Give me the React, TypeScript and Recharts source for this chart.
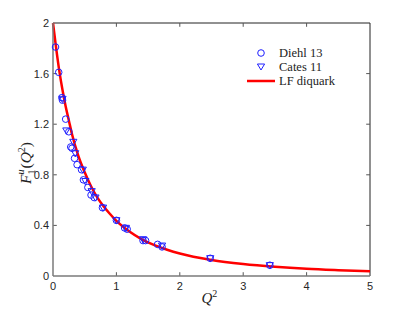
import React from 'react';
import {
  ComposedChart,
  Line,
  Scatter,
  XAxis,
  YAxis,
  ReferenceLine,
} from 'recharts';

// values
const X_TICKS = [0, 1, 2, 3, 4, 5];
const Y_TICKS = [0, 0.4, 0.8, 1.2, 1.6, 2];

const DIEHL_Q2 = [0.04, 0.09, 0.14, 0.15, 0.2, 0.25, 0.28, 0.3, 0.34, 0.38, 0.45, 0.48, 0.55, 0.6, 0.65, 0.78, 1.0, 1.13, 1.17, 1.42, 1.46, 1.65, 1.72, 2.48, 3.42];
const DIEHL_F1 = [1.81, 1.61, 1.41, 1.39, 1.24, 1.14, 1.02, 1.01, 0.93, 0.88, 0.84, 0.76, 0.7, 0.64, 0.62, 0.54, 0.44, 0.38, 0.37, 0.28, 0.28, 0.25, 0.23, 0.14, 0.085];

const CATES_Q2 = [0.15, 0.21, 0.32, 0.35, 0.47, 0.51, 0.61, 0.67, 0.79, 1.0, 1.15, 1.42, 1.72, 2.48, 3.42];
const CATES_F1 = [1.4, 1.15, 1.06, 0.97, 0.84, 0.75, 0.67, 0.62, 0.54, 0.44, 0.38, 0.29, 0.24, 0.14, 0.085];

const CURVE_Q2 = [0, 0.05, 0.1, 0.15, 0.2, 0.25, 0.3, 0.4, 0.5, 0.6, 0.7, 0.8, 0.9, 1.0, 1.2, 1.4, 1.6, 1.8, 2.0, 2.5, 3.0, 3.5, 4.0, 4.5, 5.0];
const CURVE_F1 = [2.0, 1.8, 1.62, 1.47, 1.34, 1.23, 1.12, 0.95, 0.82, 0.71, 0.62, 0.55, 0.49, 0.435, 0.353, 0.29, 0.244, 0.208, 0.178, 0.127, 0.095, 0.073, 0.057, 0.046, 0.037];

const zip = (xs: number[], ys: number[]) => xs.map((q2, i) => ({ q2, f1: ys[i] }));

const diehl = zip(DIEHL_Q2, DIEHL_F1);
const cates = zip(CATES_Q2, CATES_F1);
const curve = zip(CURVE_Q2, CURVE_F1);

const BLUE = '#1f1fff';
const RED = '#ff0000';
const MATH_FONT = '"Liberation Serif", "DejaVu Serif", serif';
const TICK_FONT = '"Liberation Sans", Arial, sans-serif';

const Circle = (props: any) => (
  <circle cx={props.cx} cy={props.cy} r={3.3} fill="none" stroke={BLUE} strokeWidth={1} />
);

const TriDown = (props: any) => {
  const { cx, cy } = props;
  return (
    <path
      d={`M${cx - 3.6},${cy - 2.6} L${cx + 3.6},${cy - 2.6} L${cx},${cy + 3.6} Z`}
      fill="none"
      stroke={BLUE}
      strokeWidth={1}
    />
  );
};

function LegendBox() {
  return (
    <svg width={130} height={46} style={{ position: 'absolute', left: 240, top: 44 }}>
      <circle cx={21} cy={9} r={3.3} fill="none" stroke={BLUE} />
      <path d="M17.4,20 L24.6,20 L21,26 Z" fill="none" stroke={BLUE} />
      <line x1={7} x2={35} y1={37} y2={37} stroke={RED} strokeWidth={2.5} />
      <g fontFamily={MATH_FONT} fontSize={12.5} fill="#222">
        <text x={39} y={13}>Diehl 13</text>
        <text x={39} y={27}>Cates 11</text>
        <text x={39} y={41}>LF diquark</text>
      </g>
    </svg>
  );
}

const XLabel = (props: any) => {
  const { viewBox } = props;
  const cx = viewBox.x + viewBox.width / 2;
  return (
    <text x={cx - 10} y={303} fontFamily={MATH_FONT} fontSize={15} fill="#222">
      <tspan fontStyle="italic">Q</tspan>
      <tspan fontSize={10} dy={-6}>2</tspan>
    </text>
  );
};

const YLabel = () => (
  <text
    transform="translate(31,184) rotate(-90)"
    fontFamily={MATH_FONT}
    fontSize={15.5}
    fill="#222"
  >
    <tspan fontStyle="italic">F</tspan>
    <tspan fontSize={10} dy={4}>1</tspan>
    <tspan fontSize={10} fontStyle="italic" dx={-5} dy={-11}>u</tspan>
    <tspan dx={1} dy={7}>(</tspan>
    <tspan fontStyle="italic">Q</tspan>
    <tspan fontSize={10} dy={-6}>2</tspan>
    <tspan dy={6}>)</tspan>
  </text>
);

export default function App() {
  return (
    <div style={{ position: 'absolute', left: 0, top: 0, width: 409, height: 312, background: '#fff' }}>
      <ComposedChart width={409} height={312} margin={{ top: 23, right: 39, bottom: 0, left: 0 }}>
        <XAxis
          type="number"
          dataKey="q2"
          domain={[0, 5]}
          ticks={X_TICKS}
          tickLine={false}
          tickSize={0}
          tickMargin={6}
          height={36}
          axisLine={{ stroke: '#7a7a7a', strokeWidth: 1.5 }}
          tick={{ fontSize: 11, fill: '#262626', fontFamily: TICK_FONT }}
          label={<XLabel />}
        />
        <YAxis
          type="number"
          dataKey="f1"
          domain={[0, 2]}
          ticks={Y_TICKS}
          tickLine={false}
          tickSize={0}
          tickMargin={4}
          width={53}
          axisLine={{ stroke: '#7a7a7a', strokeWidth: 1.5 }}
          tick={{ fontSize: 11, fill: '#262626', fontFamily: TICK_FONT }}
          label={<YLabel />}
        />
        <ReferenceLine y={2} stroke="#222" strokeWidth={1} />
        <ReferenceLine x={5} stroke="#222" strokeWidth={1} />
        {X_TICKS.slice(1, -1).map((t) => (
          <ReferenceLine key={`xb${t}`} segment={[{ x: t, y: 0 }, { x: t, y: 0.03 }]} stroke="#555" />
        ))}
        {X_TICKS.slice(1, -1).map((t) => (
          <ReferenceLine key={`xt${t}`} segment={[{ x: t, y: 2 }, { x: t, y: 1.97 }]} stroke="#555" />
        ))}
        {Y_TICKS.slice(1, -1).map((t) => (
          <ReferenceLine key={`yl${t}`} segment={[{ x: 0, y: t }, { x: 0.06, y: t }]} stroke="#555" />
        ))}
        {Y_TICKS.slice(1, -1).map((t) => (
          <ReferenceLine key={`yr${t}`} segment={[{ x: 5, y: t }, { x: 4.94, y: t }]} stroke="#555" />
        ))}
        <Scatter data={diehl} shape={Circle} isAnimationActive={false} />
        <Scatter data={cates} shape={TriDown} isAnimationActive={false} />
        <Line
          data={curve}
          dataKey="f1"
          type="monotone"
          stroke={RED}
          strokeWidth={2.5}
          dot={false}
          activeDot={false}
          isAnimationActive={false}
        />
      </ComposedChart>
      <LegendBox />
    </div>
  );
}
